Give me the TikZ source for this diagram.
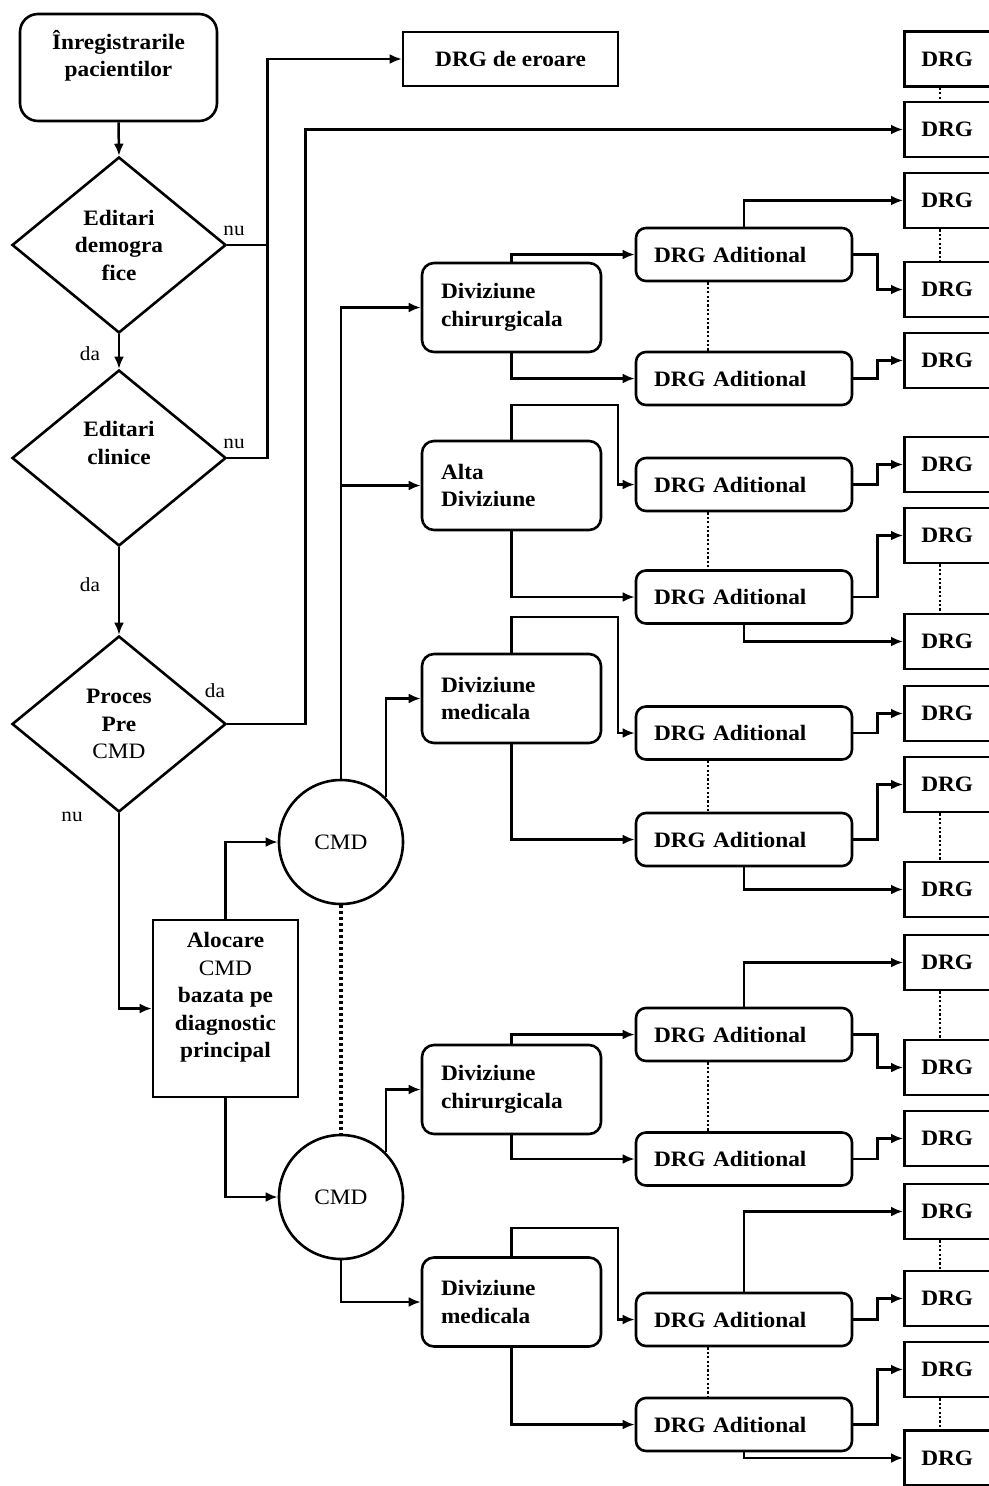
\documentclass[tikz,border=0pt]{standalone}
\usepackage{fontspec}
\setmainfont{Liberation Serif}[FakeStretch=1.06]
\usetikzlibrary{shapes.geometric,arrows.meta}
% multi-line text lifted inside its box, without changing the box size
\newcommand\liftup[2]{\raisebox{#1}[0pt][0pt]{\begin{tabular}{@{}c@{}}#2\end{tabular}}}
\begin{document}
\begin{tikzpicture}[x=1pt,y=-1pt,
  base/.style={font=\fontsize{22}{27.5}\selectfont\bfseries, inner sep=0pt, line width=2.6pt, draw},
  startbox/.style={base, rounded corners=18pt, minimum width=197pt, minimum height=107pt, align=center},
  decision/.style={base, diamond, aspect=1.216, minimum width=214pt, minimum height=176pt, align=center},
  divbox/.style={base, rounded corners=12pt, minimum width=179pt, minimum height=89pt, text width=141pt, align=left},
  addbox/.style={base, rounded corners=10pt, minimum width=216pt, minimum height=53pt, text width=180pt, align=left},
  drgbox/.style={base, anchor=west, minimum height=55pt, text width=90pt, inner xsep=17pt, align=left},
  cmdnode/.style={base, circle, minimum size=124pt, font=\fontsize{22}{27.5}\selectfont},
  lbl/.style={font=\fontsize{20}{22}\selectfont, inner sep=0pt},
  arr/.style={-{Latex[length=12pt,width=10pt]}, line width=2.5pt},
  link/.style={line width=2.5pt},
  dotbig/.style={line width=3.2pt, dash pattern=on 3pt off 3pt},
  dotsmall/.style={line width=2.4pt, dash pattern=on 2.2pt off 2.2pt}
]
\useasboundingbox (0,0) rectangle (988,1486);

% ---- left column: admission and checks
\node[startbox] (start) at (118.5,67.5) {\liftup{5pt}{Înregistrarile\\pacientilor}};
\node[decision] (dia1) at (119,245) {Editari\\demogra\\fice};
\node[decision] (dia2) at (119,458) {\liftup{8pt}{Editari\\clinice}};
\node[decision] (dia3) at (119,724) {Proces\\Pre\\{\mdseries CMD}};
\node[base, minimum width=215pt, minimum height=54pt] (err) at (510.5,59) {DRG de eroare};
\node[base, minimum width=145pt, minimum height=177pt] (aloc) at (225.5,1008.5)
  {\liftup{6pt}{Alocare\\{\mdseries CMD}\\bazata pe\\diagnostic\\principal}};

% ---- CMD circles
\node[cmdnode] (cmd1) at (341,842) {CMD};
\node[cmdnode] (cmd2) at (341,1197) {CMD};

% ---- divisions
\node[divbox] (divc1) at (511.5,307.5) {Diviziune\\chirurgicala};
\node[divbox] (alta)  at (511.5,485.5) {Alta\\Diviziune};
\node[divbox] (divm1) at (511.5,698.5) {Diviziune\\medicala};
\node[divbox] (divc2) at (511.5,1089.5) {Diviziune\\chirurgicala};
\node[divbox] (divm2) at (511.5,1302) {Diviziune\\medicala};

% ---- additional DRG boxes
\foreach \n/\y in {1/254.5,2/378.5,3/484.5,4/597,5/733,6/839.5,7/1034.5,8/1159,9/1319.5,10/1424.5}
  \node[addbox] (a\n) at (744,\y) {DRG Aditional};

% ---- DRG boxes on the right edge
\foreach \n/\y in {1/59,2/129.5,3/200.5,4/289.5,5/360.5,6/464.5,7/535.5,8/641.5,9/713.5,
                   10/784.5,11/889.5,12/962.5,13/1067.5,14/1138.5,15/1211.5,16/1298.5,17/1369.5,18/1458}
  \node[drgbox] (d\n) at (903,\y) {DRG};

% ---- labels
\node[lbl] (lnu1) at (234,231) {nu};
\node[lbl] (lnu2) at (234,444) {nu};
\node[lbl] (lda1) at (90,354) {da};
\node[lbl] (lda2) at (90,585) {da};
\node[lbl] (lda3) at (215,691) {da};
\node[lbl] (lnu3) at (72,817) {nu};

% ---- left column connectors
\draw[arr] (start.south) -- (dia1.north);
\draw[arr] (dia1.south) -- (dia2.north);
\draw[arr] (dia2.south) -- (dia3.north);
\coordinate (j1) at ([xshift=40pt]dia1.east);
\draw[arr] (dia1.east) -- (j1) |- (err.west);
\draw[link] (dia2.east) -| (j1);
\draw[arr] (dia3.east) -- ++(78,0) |- (d2.west);
\draw[arr] (dia3.south) |- (aloc.west);
\draw[arr] (aloc.north) |- (cmd1.west);
\draw[arr] (aloc.south) |- (cmd2.west);

% ---- CMD to divisions
\draw[dotbig] (cmd1.south) -- (cmd2.north);
\draw[arr] (cmd1.north) |- (divc1.west);
\draw[arr] (cmd1.north) |- (alta.west);
\draw[arr] (cmd1.45) |- (divm1.west);
\draw[arr] (cmd2.45) |- (divc2.west);
\draw[arr] (cmd2.south) |- (divm2.west);

% ---- divisions to additional DRG
\draw[arr] (divc1.north) |- (a1.west);
\draw[arr] (divc1.south) |- (a2.west);
\draw[arr] (alta.north) |- (618,405) |- (a3.west);
\draw[arr] (alta.south) |- (a4.west);
\draw[arr] (divm1.north) |- (618,617) |- (a5.west);
\draw[arr] (divm1.south) |- (a6.west);
\draw[arr] (divc2.north) |- (a7.west);
\draw[arr] (divc2.south) |- (a8.west);
\draw[arr] (divm2.north) |- (618,1228) |- (a9.west);
\draw[arr] (divm2.south) |- (a10.west);

\foreach \p/\q in {1/2,3/4,5/6,7/8,9/10}
  \draw[dotsmall] ([xshift=-36pt]a\p.south) -- ([xshift=-36pt]a\q.north);

% ---- additional DRG to DRG
\draw[arr] (a1.north) |- (d3.west);
\draw[arr] (a1.east) -- ++(24,0) |- (d4.west);
\draw[arr] (a2.east) -- ++(24,0) |- (d5.west);
\draw[arr] (a3.east) -- ++(24,0) |- (d6.west);
\draw[arr] (a4.east) -- ++(24,0) |- (d7.west);
\draw[arr] (a4.south) |- (d8.west);
\draw[arr] (a5.east) -- ++(24,0) |- (d9.west);
\draw[arr] (a6.east) -- ++(24,0) |- (d10.west);
\draw[arr] (a6.south) |- (d11.west);
\draw[arr] (a7.north) |- (d12.west);
\draw[arr] (a7.east) -- ++(24,0) |- (d13.west);
\draw[arr] (a8.east) -- ++(24,0) |- (d14.west);
\draw[arr] (a9.north) |- (d15.west);
\draw[arr] (a9.east) -- ++(24,0) |- (d16.west);
\draw[arr] (a10.east) -- ++(24,0) |- (d17.west);
\draw[arr] (a10.south) |- (d18.west);

\foreach \p/\q in {1/2,3/4,7/8,10/11,12/13,15/16,17/18}
  \draw[dotsmall] ([xshift=37pt]d\p.south west) -- ([xshift=37pt]d\q.north west);
\end{tikzpicture}
\end{document}
